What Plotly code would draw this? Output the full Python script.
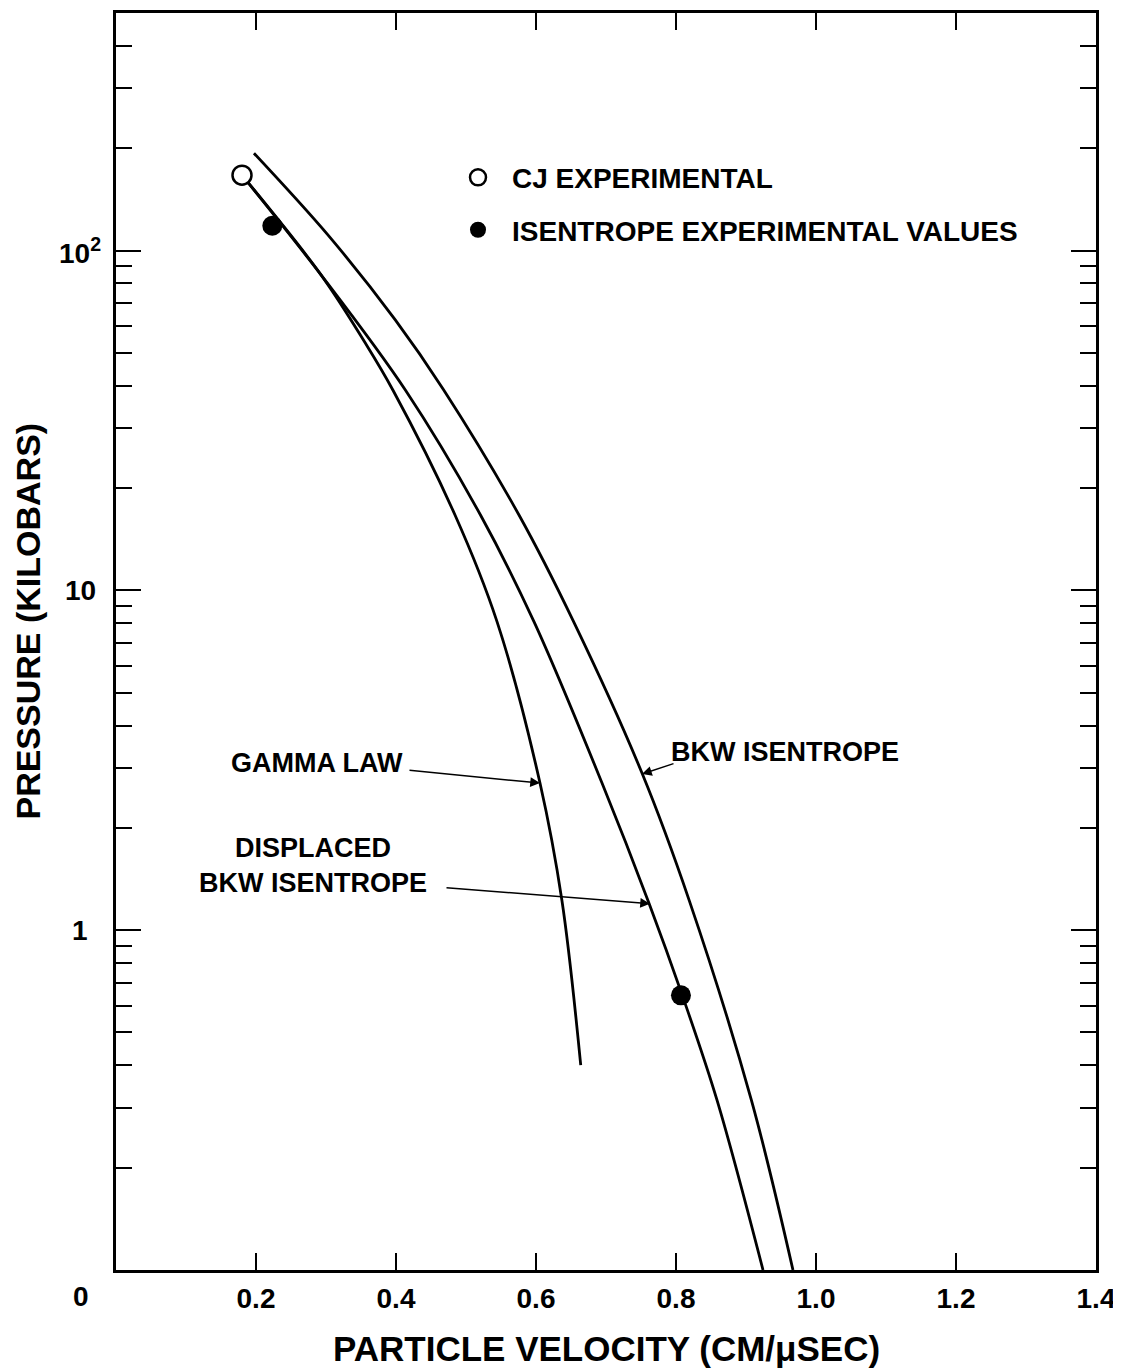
import plotly.graph_objects as go
import math

# ---- data (particle velocity in cm/usec, pressure in kilobars) ----
gamma_u = [0.1800, 0.2929, 0.3557, 0.3957, 0.4843, 0.5443, 0.6057, 0.6371, 0.6639]
gamma_p = [166.6, 84.8, 53.6, 38.8, 16.66, 8.09, 2.71, 1.22, 0.401]

displaced_u = [0.1800, 0.2929, 0.4136, 0.5207, 0.5971, 0.6943, 0.7617, 0.8090, 0.8586, 0.9243]
displaced_p = [166.6, 84.8, 38.8, 16.66, 8.09, 2.71, 1.197, 0.643, 0.316, 0.100]

bkw_u = [0.1971, 0.3039, 0.3987, 0.4677, 0.5757, 0.6537, 0.7514, 0.8191, 0.9077, 0.9671]
bkw_p = [193.3, 110.4, 62.6, 39.0, 16.66, 8.09, 2.90, 1.22, 0.316, 0.100]

cj_u = [0.180]
cj_p = [166.6]

isen_u = [0.2233, 0.8071]
isen_p = [118.3, 0.643]

x_ticks = [0.2, 0.4, 0.6, 0.8, 1.0, 1.2, 1.4]
x_ticktext = ["0.2", "0.4", "0.6", "0.8", "1.0", "1.2", "1.4"]
y_ticks = [1, 10, 100]
y_ticktext = ["1", "10", "10<sup>2</sup>"]
y_minor = [m * d for d in (0.1, 1, 10, 100) for m in range(2, 10) if m * d < 500]

FONT = "Liberation Sans"
BLACK = "black"

# reference-pixel geometry of the plotting frame (page body adds an 8 px offset)
OFF = 8
L, R, T, B = 116, 1096, 10, 1270
W, H = 1121 - OFF, 1369 - OFF


def px_to_data(px, py):
    return (px - L) / 700.0, (929.6 - py) / 341.0


def px_to_paper(px, py):
    return (px - L) / (R - L), (B - py) / (B - T)


fig = go.Figure()

for u, p in ((gamma_u, gamma_p), (displaced_u, displaced_p), (bkw_u, bkw_p)):
    fig.add_trace(go.Scatter(x=u, y=p, mode="lines", showlegend=False,
                             line=dict(color=BLACK, width=2.8, shape="spline", smoothing=1.0),
                             hoverinfo="skip"))

fig.add_trace(go.Scatter(x=cj_u, y=cj_p, mode="markers", name="CJ EXPERIMENTAL",
                         legendgroup="a",
                         marker=dict(symbol="circle", size=19, color="white",
                                     line=dict(color=BLACK, width=2.5))))
fig.add_trace(go.Scatter(x=isen_u, y=isen_p, mode="markers",
                         name="ISENTROPE EXPERIMENTAL VALUES", legendgroup="b",
                         marker=dict(symbol="circle", size=20, color=BLACK,
                                     line=dict(color=BLACK, width=0))))

annotations = []
# curve labels
for text, (px, py) in (("GAMMA LAW", (317, 762)),
                       ("DISPLACED<br>BKW ISENTROPE", (313, 865)),
                       ("BKW ISENTROPE", (785, 751))):
    xd, yd = px_to_data(px, py)
    annotations.append(dict(x=xd, y=yd, xref="x", yref="y", text=text, showarrow=False,
                            xanchor="center", yanchor="middle", align="center",
                            font=dict(size=27, family=FONT, color=BLACK, weight="bold")))

# arrows (tail -> head)
for (tx, ty), (hx, hy) in (((408, 769), (540, 782)),
                           ((445, 887), (650, 903)),
                           ((675, 762), (642, 773))):
    xt, yt = px_to_data(tx, ty)
    xh, yh = px_to_data(hx, hy)
    annotations.append(dict(x=xh, y=yh, ax=xt, ay=yt, xref="x", yref="y", axref="x", ayref="y",
                            text="", showarrow=True, arrowhead=2, arrowsize=1.3, arrowwidth=1.5,
                            arrowcolor=BLACK, standoff=0, startstandoff=0))

# y tick labels (centred under one another, as in the original lettering)
ylab_x, _ = px_to_paper(80, 0)
for v, t in zip(y_ticks, y_ticktext):
    annotations.append(dict(x=ylab_x, y=math.log10(v), xref="paper", yref="y", text=t,
                            showarrow=False, xanchor="center", yanchor="middle",
                            font=dict(size=28, family=FONT, color=BLACK, weight="bold")))

# "0" corner label
x0, y0 = px_to_paper(81, 1297)
annotations.append(dict(x=x0, y=y0, xref="paper", yref="paper", text="0", showarrow=False,
                        xanchor="center", yanchor="middle",
                        font=dict(size=28, family=FONT, color=BLACK, weight="bold")))
# axis titles
xt0, yt0 = px_to_paper(606, 1349)
annotations.append(dict(x=xt0, y=yt0, xref="paper", yref="paper",
                        text="PARTICLE VELOCITY (CM/\u03bcSEC)", showarrow=False,
                        xanchor="center", yanchor="middle",
                        font=dict(size=35, family=FONT, color=BLACK, weight="bold")))
xt1, yt1 = px_to_paper(28, 620)
annotations.append(dict(x=xt1, y=yt1, xref="paper", yref="paper", textangle=-90,
                        text="PRESSURE (KILOBARS)", showarrow=False,
                        xanchor="center", yanchor="middle",
                        font=dict(size=34, family=FONT, color=BLACK, weight="bold")))

lx, ly = px_to_paper(444, 150)

fig.update_layout(
    width=W, height=H,
    margin=dict(l=L - OFF, r=W - (R - OFF), t=T - OFF, b=H - (B - OFF), pad=0),
    paper_bgcolor="white", plot_bgcolor="white",
    font=dict(family=FONT, size=26, color=BLACK, weight="bold"),
    showlegend=True,
    legend=dict(x=lx, y=ly, xanchor="left", yanchor="top", bgcolor="rgba(0,0,0,0)",
                font=dict(size=28, family=FONT, color=BLACK, weight="bold"),
                itemwidth=58, tracegroupgap=13, traceorder="grouped"),
    annotations=annotations,
)

fig.update_xaxes(range=[0, 1.4], showgrid=False, zeroline=False,
                 showline=True, linecolor=BLACK, linewidth=2.5, mirror="allticks",
                 ticks="inside", ticklen=17, tickwidth=2, tickcolor=BLACK,
                 tickvals=x_ticks, ticktext=x_ticktext, ticklabelstandoff=2,
                 tickfont=dict(size=28, family=FONT, color=BLACK, weight="bold"))
fig.update_yaxes(type="log", range=[-1, math.log10(500)], showgrid=False, zeroline=False,
                 showline=True, linecolor=BLACK, linewidth=2.5, mirror="allticks",
                 ticks="inside", ticklen=25, tickwidth=2, tickcolor=BLACK,
                 tickvals=y_ticks, ticktext=y_ticktext, showticklabels=False,
                 minor=dict(tickvals=y_minor, ticks="inside", ticklen=16, tickwidth=2,
                            tickcolor=BLACK, showgrid=False))

fig.write_html("out.html")
